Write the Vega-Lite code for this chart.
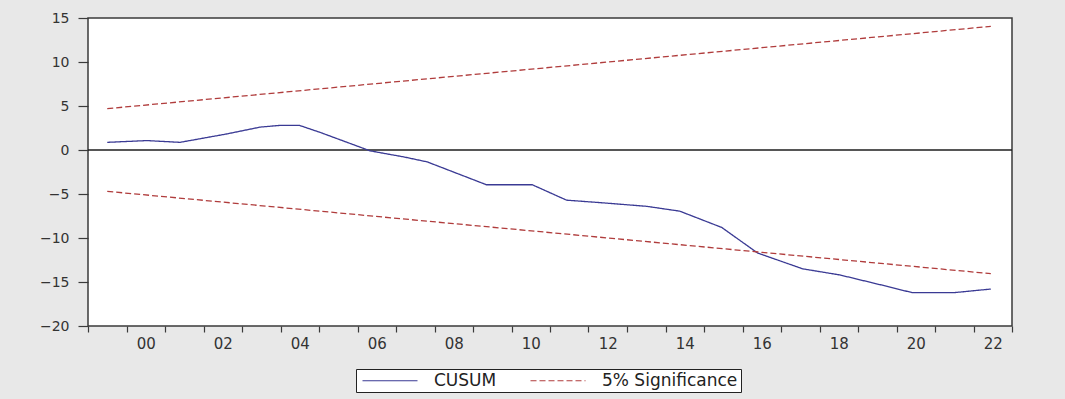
{
  "$schema": "https://vega.github.io/schema/vega-lite/v6.json",
  "width": 924,
  "height": 308,
  "autosize": {"type": "none"},
  "padding": {"left": 88, "top": 18, "right": 53, "bottom": 73},
  "background": "#e8e8e8",
  "config": {
    "view": {"fill": "white", "stroke": "#3a3a3a", "strokeWidth": 1.5},
    "font": "DejaVu Sans"
  },
  "datasets": {
    "lines": [
      {"series": "CUSUM", "grp": "c", "t": 1999.5, "value": 0.87},
      {"series": "CUSUM", "grp": "c", "t": 2000.53, "value": 1.07},
      {"series": "CUSUM", "grp": "c", "t": 2001.39, "value": 0.87},
      {"series": "CUSUM", "grp": "c", "t": 2002.61, "value": 1.83},
      {"series": "CUSUM", "grp": "c", "t": 2003.47, "value": 2.6},
      {"series": "CUSUM", "grp": "c", "t": 2003.99, "value": 2.8},
      {"series": "CUSUM", "grp": "c", "t": 2004.49, "value": 2.8},
      {"series": "CUSUM", "grp": "c", "t": 2005.03, "value": 2.0},
      {"series": "CUSUM", "grp": "c", "t": 2006.33, "value": -0.1},
      {"series": "CUSUM", "grp": "c", "t": 2007.22, "value": -0.8},
      {"series": "CUSUM", "grp": "c", "t": 2007.81, "value": -1.35},
      {"series": "CUSUM", "grp": "c", "t": 2009.35, "value": -3.95},
      {"series": "CUSUM", "grp": "c", "t": 2010.54, "value": -3.95},
      {"series": "CUSUM", "grp": "c", "t": 2011.43, "value": -5.7},
      {"series": "CUSUM", "grp": "c", "t": 2012.36, "value": -6.0},
      {"series": "CUSUM", "grp": "c", "t": 2013.51, "value": -6.4},
      {"series": "CUSUM", "grp": "c", "t": 2014.37, "value": -6.95},
      {"series": "CUSUM", "grp": "c", "t": 2015.46, "value": -8.8},
      {"series": "CUSUM", "grp": "c", "t": 2016.39, "value": -11.7},
      {"series": "CUSUM", "grp": "c", "t": 2017.56, "value": -13.5},
      {"series": "CUSUM", "grp": "c", "t": 2018.53, "value": -14.2},
      {"series": "CUSUM", "grp": "c", "t": 2019.57, "value": -15.3},
      {"series": "CUSUM", "grp": "c", "t": 2020.4, "value": -16.2},
      {"series": "CUSUM", "grp": "c", "t": 2021.52, "value": -16.2},
      {"series": "CUSUM", "grp": "c", "t": 2022.45, "value": -15.8},
      {"series": "5% Significance", "grp": "u", "t": 1999.5, "value": 4.7},
      {"series": "5% Significance", "grp": "u", "t": 2022.45, "value": 14.05},
      {"series": "5% Significance", "grp": "l", "t": 1999.5, "value": -4.7},
      {"series": "5% Significance", "grp": "l", "t": 2022.45, "value": -14.05}
    ]
  },
  "layer": [
    {
      "data": {"values": [{}]},
      "mark": {"type": "rule", "color": "#1e1e1e", "strokeWidth": 1.3},
      "encoding": {"y": {"datum": 0, "type": "quantitative"}}
    },
    {
      "data": {"name": "lines"},
      "mark": {"type": "line", "strokeWidth": 1.3},
      "encoding": {
        "x": {
          "field": "t",
          "type": "quantitative",
          "scale": {"domain": [1999, 2023], "nice": false, "zero": false},
          "axis": {
            "title": null,
            "domain": false,
            "grid": false,
            "values": [1999, 2000, 2000.5, 2001, 2002, 2002.5, 2003, 2004, 2004.5, 2005, 2006, 2006.5, 2007, 2008, 2008.5, 2009, 2010, 2010.5, 2011, 2012, 2012.5, 2013, 2014, 2014.5, 2015, 2016, 2016.5, 2017, 2018, 2018.5, 2019, 2020, 2020.5, 2021, 2022, 2022.5, 2023],
            "labelExpr": "datum.value % 1 != 0 ? substring(toString(floor(datum.value)), 2) : ''",
            "tickOpacity": {"condition": {"test": "datum.value % 1 != 0", "value": 0}, "value": 1},
            "tickSize": 6,
            "tickColor": "#3a3a3a",
            "tickWidth": 1.2,
            "labelPadding": 4,
            "labelFontSize": 15,
            "labelColor": "#333333",
            "labelOverlap": false,
            "labelBound": false,
            "labelFlush": false
          }
        },
        "y": {
          "field": "value",
          "type": "quantitative",
          "scale": {"domain": [-20, 15], "nice": false, "zero": false},
          "axis": {
            "title": null,
            "domain": false,
            "grid": false,
            "values": [-20, -15, -10, -5, 0, 5, 10, 15],
            "tickSize": 10,
            "tickColor": "#3a3a3a",
            "tickWidth": 1.2,
            "labelPadding": 9,
            "labelFontSize": 14,
            "labelColor": "#333333",
            "labelOverlap": false,
            "labelBound": false,
            "labelFlush": false
          }
        },
        "color": {
          "field": "series",
          "type": "nominal",
          "scale": {"domain": ["CUSUM", "5% Significance"], "range": ["#3a3a94", "#b03c3c"]},
          "legend": {
            "title": null,
            "orient": "none",
            "legendX": 268,
            "legendY": 351,
            "direction": "horizontal",
            "symbolType": "M-1,0H10",
            "symbolSize": 100,
            "symbolStrokeWidth": 1.2,
            "labelFontSize": 17,
            "labelColor": "#222222",
            "strokeColor": "#222222",
            "fillColor": "white",
            "padding": 3,
            "columnPadding": 30,
            "labelOffset": 58,
            "labelLimit": 300
          }
        },
        "strokeDash": {
          "field": "series",
          "type": "nominal",
          "scale": {"domain": ["CUSUM", "5% Significance"], "range": [[1, 0], [6, 3]]},
          "legend": {
            "title": null,
            "orient": "none",
            "legendX": 268,
            "legendY": 351,
            "direction": "horizontal",
            "symbolType": "M-1,0H10",
            "symbolSize": 100,
            "symbolStrokeWidth": 1.2,
            "labelFontSize": 17,
            "labelColor": "#222222",
            "strokeColor": "#222222",
            "fillColor": "white",
            "padding": 3,
            "columnPadding": 30,
            "labelOffset": 58,
            "labelLimit": 300
          }
        },
        "detail": {"field": "grp", "type": "nominal"}
      }
    }
  ]
}
